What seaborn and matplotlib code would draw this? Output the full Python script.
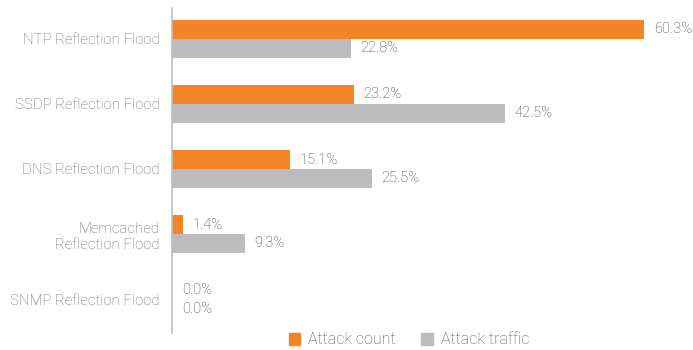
import matplotlib
matplotlib.use("Agg")
import matplotlib.pyplot as plt
import seaborn as sns
import pandas as pd

categories = ["NTP Reflection Flood", "SSDP Reflection Flood", "DNS Reflection Flood",
              "Memcached\nReflection Flood", "SNMP Reflection Flood"]
attack_count = [60.3, 23.2, 15.1, 1.4, 0.0]
attack_traffic = [22.8, 42.5, 25.5, 9.3, 0.0]
series_names = ["Attack count", "Attack traffic"]
colors = ["#F58426", "#BCBCBF"]

df = pd.DataFrame({
    "category": categories * 2,
    "value": attack_count + attack_traffic,
    "series": [series_names[0]] * len(categories) + [series_names[1]] * len(categories),
})

sns.set_style("white")
plt.rcParams["font.family"] = ["Roboto", "DejaVu Sans"]

fig = plt.figure(figsize=(6.93, 3.5), dpi=100)
ax = fig.add_axes([172 / 693, 1 - 333 / 350, (693 - 172) / 693, (333 - 8) / 350])

sns.barplot(data=df, y="category", x="value", hue="series", palette=colors,
            order=categories, hue_order=series_names, orient="h",
            width=0.58, gap=0, dodge=True, ax=ax, saturation=1, edgecolor="none",
            legend=True)

ax.set_xlim(0, 66.5)
ax.set_ylim(4.52, -0.473)
ax.set_xlabel("")
ax.set_ylabel("")
ax.set_xticks([])
for s in ["top", "right", "bottom"]:
    ax.spines[s].set_visible(False)
ax.spines["left"].set_color("#BDBDBD")
ax.spines["left"].set_linewidth(1.2)
ax.tick_params(axis="y", length=0, pad=9, labelsize=10.8, labelcolor="#666666")
for t in ax.get_yticklabels():
    t.set_fontweight("light")
    t.set_multialignment("right")

for container in ax.containers:
    ax.bar_label(container, fmt="%.1f%%", padding=7, fontsize=10.5,
                 color="#3F3F3F", fontweight="light")

ax.legend_.remove()
handles = [plt.Rectangle((0, 0), 1, 1, color=c) for c in colors]
fig.legend(handles, series_names, loc="center", bbox_to_anchor=(409 / 693, 1 - 340 / 350),
           ncol=2, frameon=False, handlelength=0.7, handleheight=0.7,
           handletextpad=0.5, columnspacing=1.6, labelcolor="#555555",
           prop={"weight": "light", "size": 11.5})

fig.savefig("out.png", dpi=100)
